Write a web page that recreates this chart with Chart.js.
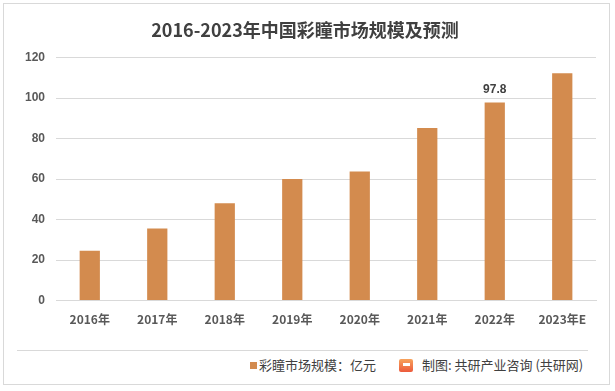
<!DOCTYPE html>
<html>
<head>
<meta charset="utf-8">
<script src="https://cdn.jsdelivr.net/npm/chart.js@4"></script>
<style>
  body { margin: 0; background: #fff; font-family: "Noto Sans CJK SC", sans-serif; }
  #frame { position: absolute; left: 3px; top: 3px; width: 607px; height: 382px; border: 1px solid #d9d9d9; box-sizing: border-box; }
  #wrap { position: absolute; left: 0; top: 0; width: 605px; height: 335px; }
  #divider { position: absolute; left: 13px; top: 346px; width: 571px; border-top: 1px solid #d9d9d9; }
  #legend { position: absolute; left: 246px; top: 352px; font-size: 13px; line-height: 18px; color: #404040; }
  #legend span.box { display: inline-block; width: 7px; height: 7px; background: #d38b4e; margin-right: 2px; vertical-align: 1px; }
  #source { position: absolute; left: 395px; top: 352px; font-size: 13px; line-height: 18px; color: #404040; }
  #source span.logo { position: relative; display: inline-block; width: 14px; height: 13px; background: linear-gradient(180deg, #f7a35c, #ec5a3c); border-radius: 2px; margin-right: 9px; vertical-align: -2px; }
  #source span.logo i { position: absolute; left: 4px; top: 4px; width: 7px; height: 3px; background: #fff; }
</style>
</head>
<body>
<div id="frame">
  <div id="wrap"><canvas id="myChart"></canvas></div>
  <div id="divider"></div>
  <div id="legend"><span class="box"></span>彩瞳市场规模：亿元</div>
  <div id="source"><span class="logo"><i></i></span>制图: 共研产业咨询 (共研网)</div>
</div>
<script>
const years = ['2016年', '2017年', '2018年', '2019年', '2020年', '2021年', '2022年', '2023年E'];
const marketSize = [24.6, 35.6, 48.1, 60.0, 63.8, 85.2, 97.8, 112.3];
const labelled = [6];

const valueLabels = {
  id: 'valueLabels',
  afterDatasetsDraw(chart) {
    const ctx = chart.ctx;
    const meta = chart.getDatasetMeta(0);
    ctx.save();
    ctx.font = 'bold 12px "Liberation Sans", sans-serif';
    ctx.fillStyle = '#404040';
    ctx.textAlign = 'center';
    ctx.textBaseline = 'bottom';
    labelled.forEach(i => {
      const bar = meta.data[i];
      ctx.fillText(marketSize[i].toFixed(1), bar.x, bar.y - 7);
    });
    ctx.restore();
  }
};

const ctx = document.getElementById('myChart').getContext('2d');
new Chart(ctx, {
  type: 'bar',
  data: {
    labels: years,
    datasets: [{
      label: '彩瞳市场规模：亿元',
      data: marketSize,
      backgroundColor: '#d38b4e',
      barPercentage: 0.6,
      categoryPercentage: 0.5
    }]
  },
  options: {
    responsive: true,
    maintainAspectRatio: false,
    animation: false,
    layout: { padding: { left: 10, right: 13, top: 5, bottom: 0 } },
    plugins: {
      legend: { display: false },
      tooltip: { enabled: false },
      title: {
        display: true,
        text: '2016-2023年中国彩瞳市场规模及预测',
        color: '#404040',
        font: { family: '"Noto Sans CJK SC", sans-serif', size: 18, weight: 'bold' },
        padding: { top: 10, bottom: 17 }
      }
    },
    scales: {
      x: {
        grid: { display: false, drawTicks: false },
        border: { color: '#d9d9d9' },
        ticks: { color: '#595959', font: { family: '"Noto Sans CJK SC", sans-serif', size: 12, weight: 'bold' }, padding: 12 }
      },
      y: {
        min: 0,
        max: 120,
        ticks: { stepSize: 20, color: '#595959', font: { family: '"Liberation Sans", sans-serif', size: 12, weight: 'bold' }, padding: 11 },
        grid: { color: '#d9d9d9', drawTicks: false },
        border: { display: false }
      }
    }
  },
  plugins: [valueLabels]
});
</script>
</body>
</html>
